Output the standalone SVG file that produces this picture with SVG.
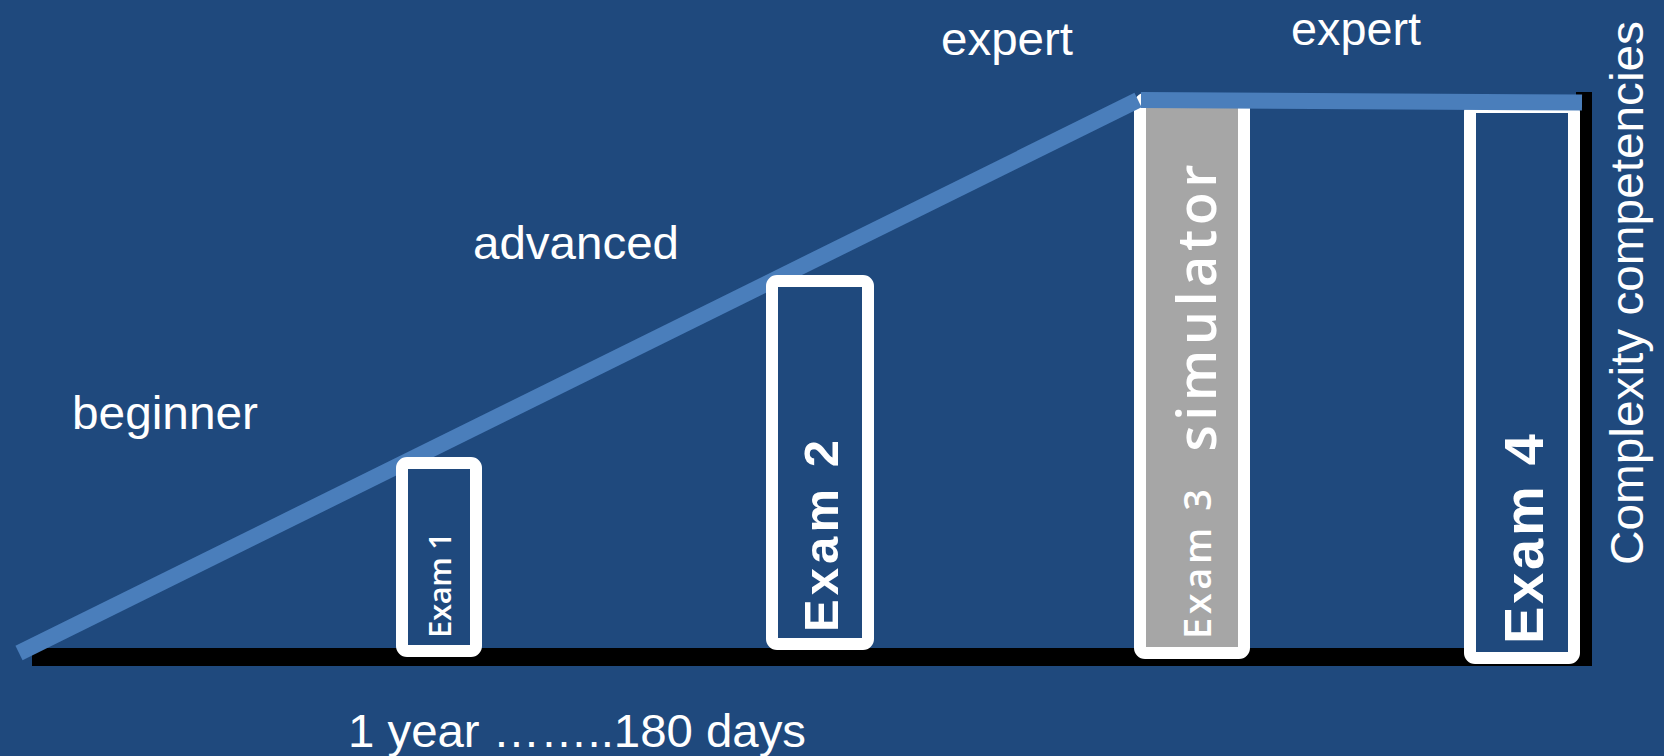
<svg xmlns="http://www.w3.org/2000/svg" width="1664" height="756" viewBox="0 0 1664 756">
<style>
.lbl{font-family:"Liberation Sans",Arial,sans-serif;font-size:47px;fill:#fff}
.box{fill:#1F497D;stroke:#fff;stroke-width:12}
.ex{fill:#fff;text-anchor:middle}
.os{font-family:"Open Sans","Noto Sans",sans-serif;font-weight:600}
.ls{font-family:"Liberation Sans",Arial,sans-serif;font-weight:700}
.ln{stroke:#4A7EBB;stroke-width:16;fill:none;stroke-linecap:butt}
</style>
<rect width="1664" height="756" fill="#1F497D"/>
<g id="axes">
<rect x="32" y="648" width="1560" height="18" fill="#000"/>
<rect x="1576" y="92" width="16" height="570" fill="#000"/>
</g>
<g id="exam3">
<rect class="box" x="1140" y="99" width="104" height="554" rx="5" style="fill:#A6A6A6"/>
<text class="ex os" transform="translate(1211,564) rotate(-90)" font-size="38" textLength="150" lengthAdjust="spacing">Exam 3</text>
<text class="ex os" transform="translate(1216,308) rotate(-90)" font-size="54" font-weight="700" textLength="287" lengthAdjust="spacing">simulator</text>
</g>
<g id="exam4">
<rect class="box" x="1470" y="107" width="104" height="551" rx="5"/>
<text class="ex ls" transform="translate(1543,539) rotate(-90)" font-size="56" textLength="210" lengthAdjust="spacing">Exam 4</text>
</g>
<g id="connectors">
<line class="ln" x1="19" y1="653" x2="1138" y2="100"/>
<line class="ln" x1="1141" y1="100" x2="1582" y2="102.5"/>
</g>
<g id="exam1">
<rect class="box" x="402" y="463" width="74" height="188" rx="5"/>
<text class="ex os" transform="translate(451,585) rotate(-90)" font-size="31" font-weight="700" textLength="106" lengthAdjust="spacing">Exam 1</text>
</g>
<g id="exam2">
<rect class="box" x="772" y="281" width="96" height="363" rx="5"/>
<text class="ex ls" transform="translate(838,536) rotate(-90)" font-size="49" textLength="192" lengthAdjust="spacing">Exam 2</text>
</g>
<g id="labels">
<text class="lbl" x="72" y="429" textLength="186" lengthAdjust="spacingAndGlyphs">beginner</text>
<text class="lbl" x="473" y="259" textLength="206" lengthAdjust="spacingAndGlyphs">advanced</text>
<text class="lbl" x="941" y="55" textLength="132" lengthAdjust="spacingAndGlyphs">expert</text>
<text class="lbl" x="1291" y="45" textLength="130" lengthAdjust="spacingAndGlyphs">expert</text>
<text class="lbl" x="348" y="747" textLength="458" lengthAdjust="spacingAndGlyphs">1 year ……..180 days</text>
<text class="lbl" transform="translate(1643,293) rotate(-90)" text-anchor="middle" textLength="544" lengthAdjust="spacingAndGlyphs">Complexity competencies</text>
</g>
</svg>
